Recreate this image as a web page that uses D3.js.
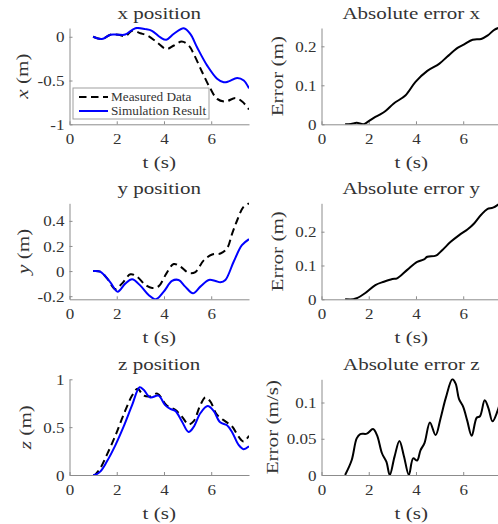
<!DOCTYPE html>
<html>
<head>
<meta charset="utf-8">
<script src="https://cdn.jsdelivr.net/npm/d3@7"></script>
<style>
  html, body { margin: 0; padding: 0; background: #fff; }
  svg { display: block; }
</style>
</head>
<body>
<svg id="chart" width="498" height="524"></svg>
<script>
// ---------- data ----------
const tickLabelsT = [0, 2, 4, 6];

const tXSim = [1.0,1.37,1.73,2.08,2.36,2.79,3.21,3.49,3.85,4.1,4.42,4.84,5.12,5.4,5.83,6.25,6.53,6.74,7.1,7.38,7.6];
const xSim  = [0,-0.026,0.023,0.023,0.025,0.098,0.087,0.068,-0.008,-0.034,0.034,0.098,0.03,-0.12,-0.33,-0.48,-0.52,-0.51,-0.47,-0.5,-0.59];
const tXMeas = [1.0,1.37,1.73,2.08,2.36,2.65,3.0,3.32,3.71,4.1,4.42,4.75,5.05,5.26,5.62,5.97,6.25,6.6,7.03,7.31,7.6];
const xMeas  = [0,-0.026,0.023,0.023,0.005,0.068,0.04,0.011,-0.065,-0.14,-0.1,-0.055,-0.1,-0.197,-0.405,-0.595,-0.71,-0.74,-0.7,-0.74,-0.83];

const tErrX = [1.0,1.25,1.49,1.78,2.0,2.28,2.49,2.71,3.06,3.55,3.98,4.48,4.98,5.33,5.76,6.04,6.4,6.76,7.04,7.33,7.6];
const errX  = [0,0.001,0.004,0,0.008,0.019,0.0255,0.034,0.0535,0.074,0.109,0.137,0.155,0.174,0.196,0.205,0.217,0.219,0.228,0.243,0.249];

const tYSim = [1.0,1.3,1.73,2.04,2.36,2.65,3.0,3.35,3.66,3.99,4.34,4.62,4.9,5.23,5.54,5.9,6.18,6.39,6.6,6.95,7.3,7.6];
const ySim  = [0,-0.005,-0.09,-0.164,-0.1,-0.066,-0.116,-0.19,-0.225,-0.164,-0.079,-0.071,-0.124,-0.177,-0.124,-0.071,-0.079,-0.09,-0.071,0.074,0.206,0.254];
const tYMeas = [1.0,1.3,1.6,1.94,2.22,2.58,2.86,3.21,3.5,3.78,4.1,4.41,4.7,5.05,5.33,5.69,6.04,6.39,6.67,6.89,7.1,7.36,7.6];
const yMeas  = [0,-0.005,-0.06,-0.143,-0.1,-0.026,-0.045,-0.11,-0.135,-0.12,-0.02,0.056,0.034,-0.015,-0.008,0.087,0.132,0.14,0.18,0.3,0.405,0.51,0.54];

const tErrY = [1.0,1.35,1.49,1.84,2.28,2.64,3.0,3.2,3.63,4.05,4.34,4.48,4.84,5.12,5.47,5.83,6.19,6.47,6.76,7.02,7.26,7.6];
const errY  = [0,0,0.003,0.018,0.042,0.052,0.06,0.062,0.087,0.111,0.118,0.126,0.129,0.146,0.17,0.19,0.207,0.225,0.25,0.267,0.271,0.286];

const tZSim = [1.0,1.06,1.3,1.58,1.94,2.29,2.65,2.97,3.14,3.42,3.77,4.05,4.27,4.48,4.76,5.04,5.25,5.54,5.85,6.1,6.38,6.67,6.88,7.16,7.37,7.6];
const zSim  = [0,0,0.035,0.14,0.31,0.505,0.73,0.917,0.89,0.81,0.83,0.73,0.69,0.67,0.56,0.45,0.5,0.645,0.72,0.67,0.55,0.52,0.45,0.314,0.27,0.3];
const tZMeas = [1.0,1.06,1.3,1.58,1.94,2.29,2.65,2.88,3.14,3.4,3.72,4.12,4.48,4.76,5.04,5.25,5.54,5.75,5.96,6.24,6.6,6.88,7.16,7.37,7.6];
const zMeas  = [0,0,0.07,0.21,0.41,0.63,0.83,0.9,0.83,0.82,0.85,0.725,0.68,0.61,0.53,0.56,0.73,0.81,0.77,0.63,0.56,0.51,0.4,0.35,0.41];

const tErrZ = [1.0,1.28,1.49,1.64,1.92,2.18,2.35,2.56,2.75,2.89,3.09,3.3,3.49,3.7,3.88,4.05,4.19,4.36,4.59,4.83,5.04,5.26,5.54,5.68,5.82,6.0,6.17,6.36,6.57,6.71,6.91,7.07,7.24,7.45,7.6];
const errZ  = [0,0.0207,0.0505,0.0565,0.057,0.0634,0.055,0.03,0.018,0,0.025,0.047,0.026,0,0.023,0.02,0.034,0.044,0.0725,0.055,0.078,0.106,0.132,0.126,0.105,0.094,0.075,0.054,0.079,0.081,0.103,0.092,0.074,0.088,0.105];

const yTicksX = [-1, -0.5, 0];        const yTickLabelsX = ["-1", "-0.5", "0"];
const yTicksErrX = [0, 0.1, 0.2];     const yTickLabelsErrX = ["0", "0.1", "0.2"];
const yTicksY = [-0.2, 0, 0.2, 0.4];  const yTickLabelsY = ["-0.2", "0", "0.2", "0.4"];
const yTicksErrY = [0, 0.1, 0.2];     const yTickLabelsErrY = ["0", "0.1", "0.2"];
const yTicksZ = [0, 0.5, 1];          const yTickLabelsZ = ["0", "0.5", "1"];
const yTicksErrZ = [0, 0.05, 0.1];    const yTickLabelsErrZ = ["0", "0.05", "0.1"];

const legendLabels = ["Measured Data", "Simulation Result"];
const titles = ["x position", "Absolute error x", "y position", "Absolute error y", "z position", "Absolute error z"];

// ---------- pick an installed serif font ----------
function pickFont(cands) {
  const c = document.createElement("canvas").getContext("2d");
  const s = "Absolute error xyz 0123456789 WMmil";
  const base = {};
  ["monospace", "sans-serif"].forEach(b => { c.font = "40px " + b; base[b] = c.measureText(s).width; });
  for (const f of cands) {
    for (const b of ["monospace", "sans-serif"]) {
      c.font = `40px "${f}", ${b}`;
      if (Math.abs(c.measureText(s).width - base[b]) > 0.5) return f;
    }
  }
  return null;
}
const FONT = pickFont(["Liberation Serif", "Tinos", "Times New Roman", "DejaVu Serif", "Noto Serif"]);
const FF = FONT ? `"${FONT}", serif` : "serif";

// widen Times-like glyphs toward the Computer Modern look of the reference
function stretch(sel, S) {
  sel.each(function () {
    const L = this.getComputedTextLength();
    d3.select(this).attr("textLength", L * S).attr("lengthAdjust", "spacingAndGlyphs");
  });
}

// ---------- layout ----------
const svg = d3.select("#chart");
const colLeft = [69.5, 321.5];
const axW = 179.5;
const rowTop = [28, 203.3, 379.3];
const rowBot = [124.3, 299.3, 475];
const BLUE = "#0000ff", BLACK = "#000000";
const AXIS = "#8c8c8c";
const TXT = "#333333";

const zip = (ts, vs) => ts.map((t, i) => [t, vs[i]]);

const panels = [
  {col:0,row:0,ydom:[-1,0.1],yt:yTicksX,ytl:yTickLabelsX,title:titles[0],ylab:["x"," (m)"],ylx:22,
   series:[{d:zip(tXMeas,xMeas),c:BLACK,dash:true},{d:zip(tXSim,xSim),c:BLUE}],legend:true},
  {col:1,row:0,ydom:[0,0.247],yt:yTicksErrX,ytl:yTickLabelsErrX,title:titles[1],ylab:[null,"Error (m)"],ylx:277,
   series:[{d:zip(tErrX,errX),c:BLACK}]},
  {col:0,row:1,ydom:[-0.225,0.54],yt:yTicksY,ytl:yTickLabelsY,title:titles[2],ylab:["y"," (m)"],ylx:23,
   series:[{d:zip(tYMeas,yMeas),c:BLACK,dash:true},{d:zip(tYSim,ySim),c:BLUE}]},
  {col:1,row:1,ydom:[0,0.284],yt:yTicksErrY,ytl:yTickLabelsErrY,title:titles[3],ylab:[null,"Error (m)"],ylx:277,
   series:[{d:zip(tErrY,errY),c:BLACK}]},
  {col:0,row:2,ydom:[0,1],yt:yTicksZ,ytl:yTickLabelsZ,title:titles[4],ylab:["z"," (m)"],ylx:25,
   series:[{d:zip(tZMeas,zMeas),c:BLACK,dash:true},{d:zip(tZSim,zSim),c:BLUE}]},
  {col:1,row:2,ydom:[0,0.132],yt:yTicksErrZ,ytl:yTickLabelsErrZ,title:titles[5],ylab:[null,"Error (m/s)"],ylx:272,
   series:[{d:zip(tErrZ,errZ),c:BLACK}]}
];

panels.forEach((p, i) => {
  const x0 = colLeft[p.col], y0 = rowTop[p.row], y1 = rowBot[p.row];
  const h = y1 - y0;
  const xs = d3.scaleLinear().domain([0, 7.6]).range([0, axW]);
  const ys = d3.scaleLinear().domain(p.ydom).range([h, 0]);
  const g = svg.append("g").attr("transform", `translate(${x0},${y0})`);

  const clipId = "clip" + i;
  g.append("clipPath").attr("id", clipId).append("rect")
    .attr("x", 0).attr("y", -1).attr("width", axW).attr("height", h + 1);

  const xAxis = d3.axisBottom(xs).tickValues(tickLabelsT).tickFormat(d3.format("d"))
    .tickSizeInner(-3).tickSizeOuter(0).tickPadding(7);
  const gx = g.append("g").attr("transform", `translate(0,${h})`).call(xAxis);
  const yAxis = d3.axisLeft(ys).tickValues(p.yt).tickFormat((d, k) => p.ytl[k])
    .tickSizeInner(-3).tickSizeOuter(0).tickPadding(5);
  const gy = g.append("g").call(yAxis);
  [gx, gy].forEach(a => {
    a.attr("font-family", FF).attr("font-size", 14.8);
    a.select(".domain").attr("stroke", AXIS).attr("stroke-width", 1);
    a.selectAll(".tick line").attr("stroke", AXIS).attr("stroke-width", 1);
    a.selectAll(".tick text").attr("fill", TXT);
  });
  gx.selectAll(".tick text").attr("dy", "0.88em");
  gy.selectAll(".tick text").attr("dy", "0.34em");
  stretch(gx.selectAll(".tick text"), 1.15);
  stretch(gy.selectAll(".tick text"), 1.15);

  const line = d3.line().x(d => xs(d[0])).y(d => ys(d[1])).curve(d3.curveCatmullRom.alpha(0.5));
  const lg = g.append("g").attr("clip-path", `url(#${clipId})`);
  p.series.forEach(s => {
    lg.append("path").datum(s.d).attr("d", line)
      .attr("fill", "none").attr("stroke", s.c).attr("stroke-width", 2)
      .attr("stroke-linejoin", "round")
      .attr("stroke-dasharray", s.dash ? "7.5,4.5" : null);
  });

  const tt = svg.append("text").attr("x", x0 + axW / 2).attr("y", y0 - 9)
    .attr("text-anchor", "middle").attr("font-family", FF).attr("font-size", 17.5).attr("fill", TXT).text(p.title);
  stretch(tt, 1.2);

  const xl = svg.append("text").attr("x", x0 + axW / 2).attr("y", y1 + 43.5)
    .attr("text-anchor", "middle").attr("font-family", FF).attr("font-size", 16.5).attr("fill", TXT).text("t (s)");
  stretch(xl, 1.28);

  const yl = svg.append("text")
    .attr("transform", `translate(${p.ylx},${(y0 + y1) / 2}) rotate(-90)`)
    .attr("text-anchor", "middle").attr("dy", "0.35em").attr("font-family", FF).attr("font-size", 16.5).attr("fill", TXT);
  if (p.ylab[0]) yl.append("tspan").attr("font-style", "italic").text(p.ylab[0]);
  yl.append("tspan").text(p.ylab[1]);
  stretch(yl, 1.28);

  if (p.legend) {
    const lgX = 73 - x0, lgY = 88 - y0;
    const leg = g.append("g").attr("transform", `translate(${lgX},${lgY})`);
    leg.append("rect").attr("width", 136).attr("height", 31)
      .attr("fill", "#fff").attr("stroke", "#a0a0a0").attr("stroke-width", 1);
    const entries = [{c: BLACK, dash: true}, {c: BLUE}];
    entries.forEach((e, k) => {
      const yy = 9 + k * 14;
      leg.append("line").attr("x1", 6).attr("x2", 35).attr("y1", yy).attr("y2", yy)
        .attr("stroke", e.c).attr("stroke-width", 2)
        .attr("stroke-dasharray", e.dash ? "7.5,4.5" : null);
      const lt = leg.append("text").attr("x", 38).attr("y", yy).attr("dy", "0.35em")
        .attr("font-family", FF).attr("font-size", 11.5).attr("fill", TXT).text(legendLabels[k]);
      stretch(lt, 1.15);
    });
  }
});
</script>
</body>
</html>
